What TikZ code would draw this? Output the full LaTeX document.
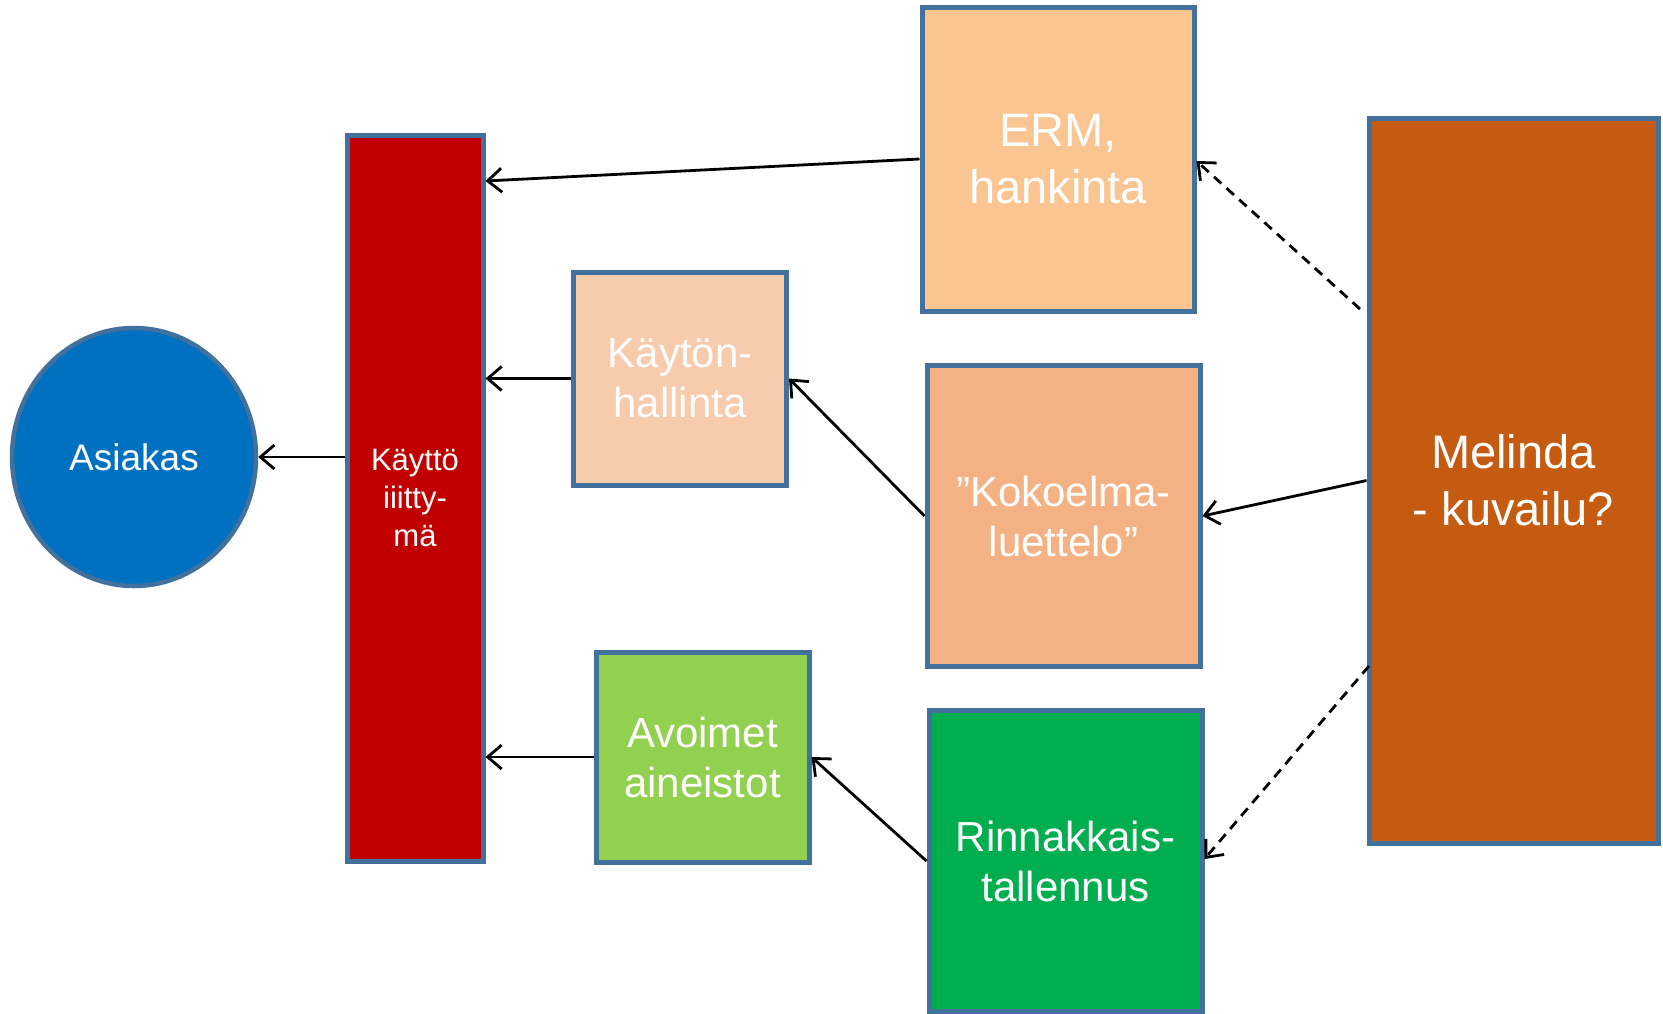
\documentclass[tikz,border=0pt]{standalone}
\usepackage{fontspec}
\setmainfont{Liberation Sans}
\usetikzlibrary{arrows.meta,shapes.geometric}
\definecolor{bord}{HTML}{41719C}
\definecolor{cblue}{HTML}{0070C0}
\definecolor{cred}{HTML}{C00000}
\definecolor{cerm}{HTML}{FAC591}
\definecolor{ckay}{HTML}{F7CBAC}
\definecolor{ckok}{HTML}{F4B183}
\definecolor{cavo}{HTML}{92D050}
\definecolor{crin}{HTML}{00AE4F}
\definecolor{cmel}{HTML}{C55A11}
\tikzset{
  box/.style={rectangle, draw=bord, line width=5pt, inner sep=0pt, text=white, align=center},
  bigtxt/.style={font=\fontsize{47}{57}\selectfont},
  midtxt/.style={font=\fontsize{42}{50}\selectfont},
  arr/.style={line width=2.8pt, -{Straight Barb[length=14pt,width=24pt,line width=2.8pt]}},
  darr/.style={arr, dash pattern=on 10pt off 7pt},
}
\begin{document}
\begin{tikzpicture}[x=1pt,y=-1pt]
\path[use as bounding box] (0,0) rectangle (1663,1013);
\begin{scope}
\clip (0,0) rectangle (1663,1013);
\node[ellipse, draw=bord, line width=4.5pt, fill=cblue, text=white, minimum width=244pt, minimum height=258pt, inner sep=0pt, font=\fontsize{37}{44}\selectfont] (asiakas) at (134,457) {Asiakas};
\node[box, fill=cred, minimum width=136pt, minimum height=726pt, font=\fontsize{31}{38}\selectfont] (bar) at (415,498) {Käyttö\\iiitty-\\mä};
\node[box, fill=cerm, minimum width=272pt, minimum height=304pt, bigtxt] (erm) at (1058,159) {ERM,\\hankinta};
\node[box, fill=ckay, minimum width=213pt, minimum height=213pt, midtxt] (kay) at (680,378.5) {Käytön-\\hallinta};
\node[box, fill=ckok, minimum width=273pt, minimum height=301pt, midtxt] (kok) at (1063.5,516) {”Kokoelma-\\luettelo”};
\node[box, fill=cavo, minimum width=213pt, minimum height=210pt, midtxt] (avo) at (702.5,757) {Avoimet\\aineistot};
\node[box, fill=crin, minimum width=273pt, minimum height=301pt, midtxt] (rin) at (1065.5,861) {Rinnakkais-\\tallennus};
\node[box, fill=cmel, minimum width=289pt, minimum height=725pt, bigtxt] (mel) at (1513.5,480.5) {Melinda\\- kuvailu?};
\end{scope}
% connectors
\draw[arr] (erm.west) -- (bar.east |- 0,181);
\draw[arr] (kay.west) -- (bar.east |- kay.west);
\draw[arr] (bar.west |- asiakas.east) -- (asiakas.east);
\draw[arr] (avo.west) -- (bar.east |- avo.west);
\draw[arr] (kok.west) -- (kay.east);
\draw[arr] (rin.west) -- (avo.east);
\draw[arr] (mel.west) -- (kok.east);
\coordinate (d1) at (1360,309);
\coordinate (d2) at (1369,666);
\draw[darr] (d1) -- (erm.east |- 0,161);
\draw[darr] (d2) -- (rin.east |- 0,859);
\end{tikzpicture}
\end{document}
